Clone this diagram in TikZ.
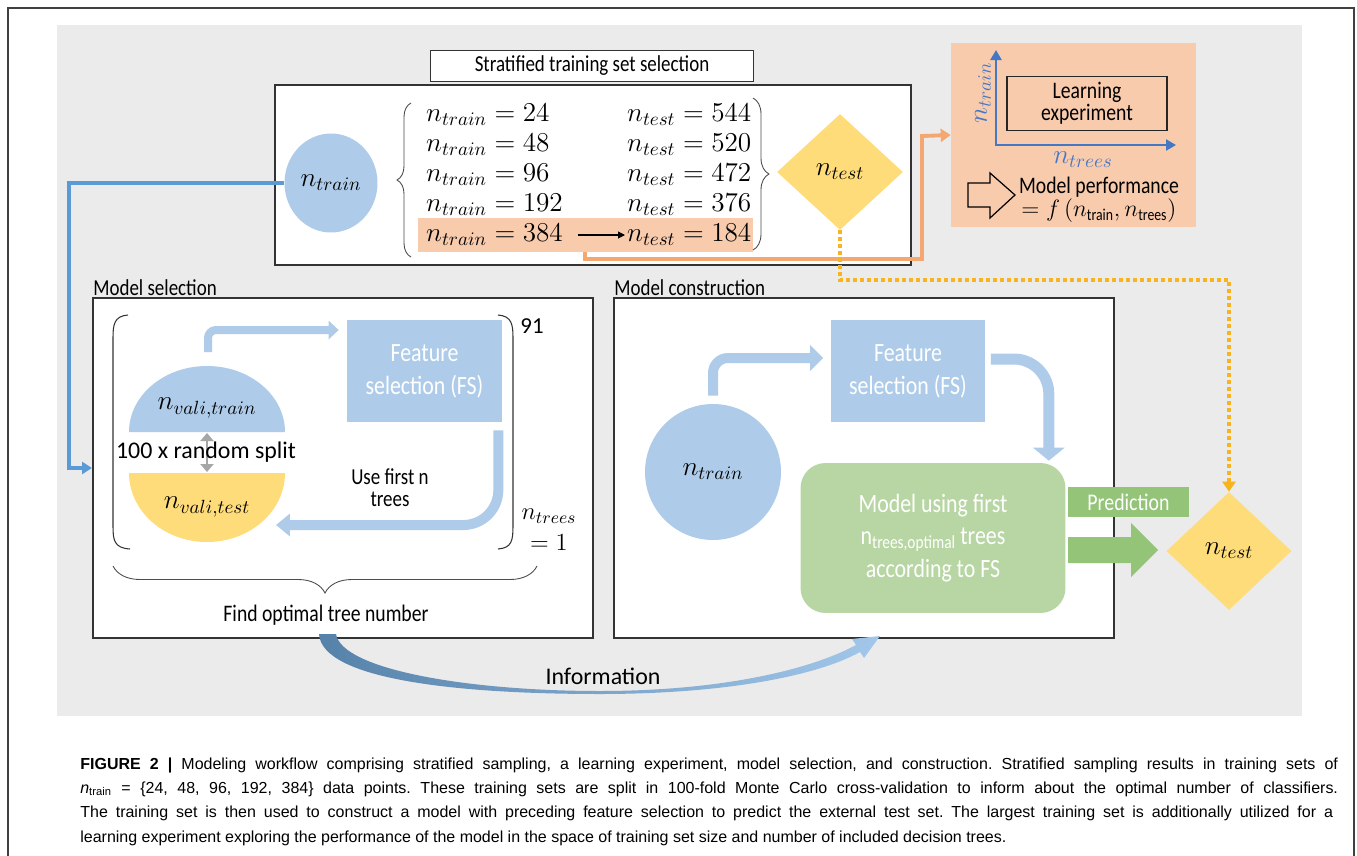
\RequirePackage{fix-cm}
\documentclass[tikz,border=0pt]{standalone}
\usepackage{amsmath}
\usepackage{fontspec}
\usetikzlibrary{arrows.meta, decorations.pathreplacing, positioning, shapes.geometric}
\newfontfamily\cnd[FakeStretch=0.83]{Carlito}
\newfontfamily\clb{Carlito}
\newfontfamily\capfont{Liberation Sans}
\frenchspacing
\def\outerframe{(8,856) -- (8,8) -- (1354,8) -- (1354,856)}
\def\graypanel{(57,25) rectangle (1302,716)}
\def\stratbox{(275,85) rectangle (911,265)}
\def\msbox{(93,298) rectangle (593,638)}
\def\mcbox{(614,298) rectangle (1114,638)}
\definecolor{panel gray}{RGB}{235,235,235}
\definecolor{set blue}{RGB}{174,204,233}
\definecolor{set yellow}{RGB}{255,220,122}
\definecolor{peach}{RGB}{248,203,173}
\definecolor{link orange}{RGB}{244,167,112}
\definecolor{link gold}{RGB}{247,180,30}
\definecolor{link blue}{RGB}{91,155,213}
\definecolor{axis blue}{RGB}{68,120,196}
\definecolor{model green}{RGB}{184,214,164}
\definecolor{pred green}{RGB}{147,196,120}
\definecolor{info dark}{RGB}{86,130,170}
\definecolor{info light}{RGB}{162,199,235}
\tikzset{
  frame/.style={draw=black!80, line width=0.6pt, fill=white},
  heading/.style={font=\cnd\fontsize{13}{15}\selectfont, inner sep=0pt},
  maths/.style={font=\fontsize{15.5}{18}\selectfont, inner sep=1pt},
  blob/.style={circle, fill=set blue, inner sep=0pt, maths},
  gem/.style={diamond, fill=set yellow, inner sep=0pt, maths},
  fsbox/.style={fill=set blue, text=white, align=center, inner sep=0pt,
    minimum width=3.1cm, minimum height=2.04cm, font=\cnd\fontsize{15}{18.7}\selectfont},
  fat/.style={draw=set blue, line width=0.18cm},
  curly/.style={decorate, draw=black!70, line width=0.5pt},
  paren/.style={draw=black!80, line width=0.6pt},
  capline/.style={anchor=base west, inner sep=0pt, font=\capfont\fontsize{9.1}{11}\selectfont}
}

\begin{document}
\begin{tikzpicture}[x=0.02cm, y=-0.02cm]
    \useasboundingbox (0,0) rectangle (1357,856);
    \draw[black!75, line width=1pt] \outerframe;
    \fill[panel gray] \graypanel;

    \draw[frame] \stratbox;
    \node[draw=black!80, line width=0.6pt, fill=white, minimum width=6.46cm, minimum height=0.62cm, heading] (strat) at (592,66) {Stratified training set selection};
    \node[ellipse, fill=set blue, minimum width=1.86cm, minimum height=1.98cm, inner sep=0pt, maths] (trainset) at (331,183) {$n_{train}$};
    \draw[curly, decoration={brace, amplitude=0.28cm}] (411,257) -- (411,103);
    \node[fill=peach, minimum width=6.7cm, minimum height=0.68cm, inner sep=0pt] (pick) at (585.5,235) {};
    \foreach \ntr/\nte [count=\i] in {24/544, 48/520, 96/472, 192/376, 384/184} {
      \node[maths, anchor=west] (tr\i) at (424, 85+30*\i) {$n_{train} = \ntr$};
      \node[maths, anchor=west] (te\i) at (625, 85+30*\i) {$n_{test} = \nte$};
    }
    \draw[line width=0.6pt, -{Triangle[length=0.14cm, width=0.14cm]}] ([xshift=0.26cm]tr5.east) -- (te5.west);
    \draw[curly, decoration={brace, amplitude=0.32cm}] (753,98) -- (753,250);
    \node[gem, minimum width=2.52cm, minimum height=2.32cm] (testset) at (840,172) {$n_{test}$};

    \node[fill=peach, minimum width=4.9cm, minimum height=3.68cm, inner sep=0pt] (learn) at (1073.5,135) {};
    \coordinate (ytip) at (996,50);
    \coordinate (xtip) at (1176,145);
    \draw[axis blue, line width=1.5pt, {Triangle[length=0.2cm, width=0.22cm]}-{Triangle[length=0.2cm, width=0.22cm]}] (ytip) |- (xtip);
    \node[maths, text=axis blue, rotate=90] (ylab) at (983,93) {$n_{train}$};
    \node[maths, text=axis blue] (xlab) at (1083,160) {$n_{trees}$};
    \node[draw=black!85, line width=0.7pt, minimum width=3.2cm, minimum height=1.06cm, align=center, font=\cnd\fontsize{13.5}{11.3}\selectfont] (lexp) at (1087,103.5) {Learning\\experiment};
    \draw[line width=0.7pt, fill=peach] (968,183) -- (990,183) -- (990,173) -- (1015,195) -- (990,218) -- (990,207) -- (968,207) -- cycle;
    \node[align=center, font=\cnd\fontsize{13.5}{11.3}\selectfont] (perf) at (1099,200) {Model performance\\$= f\,(n_{\text{train}},n_{\text{trees}})$};

    \coordinate (pickfoot) at (585,252);
    \draw[link orange, line width=2.2pt, -{Triangle[length=0.2cm, width=0.26cm]}] (pickfoot) -- (585,259) -- (922,259) -- (922,136) -- (learn.west);

    \draw[frame] \msbox;
    \coordinate (msin) at (92,468);
    \draw[link blue, line width=2pt, -{Triangle[length=0.2cm, width=0.24cm]}] (trainset.west) -- (69,183) |- (msin);
    \node[heading, anchor=base west] (mslabel) at (93,295) {Model selection};
    \draw[paren] (128,315) .. controls (114,316) and (113,325) .. (113,338) -- (113,526) .. controls (113,540) and (114,548) .. (130,549);
    \draw[paren] (498,315) .. controls (512,316) and (513,325) .. (513,338) -- (513,526) .. controls (513,540) and (512,548) .. (498,549);
    \fill[set blue] (129,432) arc[start angle=180, end angle=360, x radius=78, y radius=66] -- cycle;
    \fill[set yellow] (129,473) arc[start angle=180, end angle=0, x radius=78, y radius=69] -- cycle;
    \node[maths] (vtr) at (207,408) {$n_{vali,train}$};
    \node[maths] (vte) at (207,507) {$n_{vali,test}$};
    \coordinate (splittop) at (207,433);
    \coordinate (splitbot) at (207,472);
    \draw[black!35, line width=1.6pt, {Triangle[length=0.16cm, width=0.26cm]}-{Triangle[length=0.16cm, width=0.26cm]}] (splittop) -- (splitbot);
    \node[font=\clb\fontsize{13.6}{16}\selectfont, inner sep=0pt] (split) at (206,452) {100 x random split};
    \node[fsbox] (fs1) at (424.5,371) {Feature\\selection (FS)};
    \coordinate (loopout) at (208,352);
    \coordinate (loopin) at (276,525);
    \draw[fat, line width=0.16cm, rounded corners=0.16cm, -{Triangle[length=0.2cm, width=0.36cm]}] (loopout) |- ([xshift=-0.16cm, yshift=0.82cm]fs1.west);
    \draw[fat, line width=0.2cm, rounded corners=0.7cm, -{Triangle[length=0.28cm, width=0.44cm]}] ([xshift=-0.08cm, yshift=-0.16cm]fs1.south east) |- (loopin);
    \node[heading, font=\cnd\fontsize{13}{15}\selectfont] (usefirst) at (390,477) {Use first n};
    \node[heading, font=\cnd\fontsize{13}{15}\selectfont] (usetrees) at (390,499) {trees};
    \node[font=\clb\fontsize{13}{15}\selectfont] (iterhigh) at (532,326) {91};
    \node[maths, inner sep=0pt, font=\fontsize{14}{15}\selectfont] (iterlow) at (549,516) {$n_{trees}$};
    \node[maths, inner sep=0pt, font=\fontsize{14}{15}\selectfont] (iterone) at (549,543) {$=1$};
    \draw[curly, decoration={brace, amplitude=0.54cm}] (537,566) -- (113,566);
    \node[heading, font=\cnd\fontsize{13.5}{15}\selectfont] (findopt) at (326,615) {Find optimal tree number};

    \draw[frame] \mcbox;
    \node[heading, anchor=base west] (mclabel) at (614,295) {Model construction};
    \node[blob, minimum size=2.72cm] (trainfull) at (713,472) {$n_{train}$};
    \node[fsbox] (fs2) at (908,371) {Feature\\selection (FS)};
    \node[fill=model green, rounded corners=0.5cm, minimum width=5.3cm, minimum height=3cm, align=center, text=white, font=\cnd\fontsize{15}{18.7}\selectfont] (mdl) at (933,538) {Model using first\\n\textsubscript{trees,optimal}\,trees\\according to FS};
    \draw[fat, line width=0.2cm, rounded corners=0.3cm, -{Triangle[length=0.26cm, width=0.5cm]}] ([yshift=0.16cm]trainfull.north) |- ([xshift=-0.14cm, yshift=0.26cm]fs2.west);
    \draw[fat, line width=0.22cm, rounded corners=0.7cm, -{Triangle[length=0.26cm, width=0.62cm]}] ([xshift=0.1cm, yshift=0.24cm]fs2.east) -| ([xshift=-0.34cm, yshift=0.04cm]mdl.north east);
    \node[fill=pred green, text=white, minimum width=2.42cm, minimum height=0.6cm, inner sep=0pt, font=\cnd\fontsize{13.6}{15}\selectfont] (pred) at (1128.5,502) {Prediction};
    \fill[pred green] (1068,537) -- (1131,537) -- (1131,523) -- (1158,550) -- (1131,577) -- (1131,563) -- (1068,563) -- cycle;
    \node[gem, minimum width=2.5cm, minimum height=2.36cm] (testfull) at (1229,551) {$n_{test}$};
    \draw[link gold, line width=0.08cm, dash pattern=on 0.08cm off 0.06cm, -{Triangle[length=0.2cm, width=0.26cm]}] (testset.south) -- (840,280) -| (testfull.north);

    \shade[left color=info dark, right color=info light] (336,634) .. controls (342,670) and (470,691) .. (600,691) .. controls (720,691) and (810,670) .. (856,645) -- (852,639) -- (880,636) -- (864,658) -- (860,652) .. controls (815,677) and (720,694) .. (600,694) .. controls (460,694) and (322,680) .. (319,634) -- cycle;
    \node[font=\clb\fontsize{13.6}{16}\selectfont] (info) at (603,676) {Information};

    \node[capline] (cap1) at (80,769) {\makebox[25.16cm][s]{\textbf{FIGURE 2 |} Modeling workflow comprising stratified sampling, a learning experiment, model selection, and construction. Stratified sampling results in training sets of}};
    \node[capline] (cap2) at (80,793) {\makebox[25.16cm][s]{\textit{n}\textsubscript{train} = \{24, 48, 96, 192, 384\} data points. These training sets are split in 100-fold Monte Carlo cross-validation to inform about the optimal number of classifiers.}};
    \node[capline] (cap3) at (80,817) {\makebox[25.06cm][s]{The training set is then used to construct a model with preceding feature selection to predict the external test set. The largest training set is additionally utilized for a}};
    \node[capline] (cap4) at (80,842) {learning experiment exploring the performance of the model in the space of training set size and number of included decision trees.};
\end{tikzpicture}
\end{document}
